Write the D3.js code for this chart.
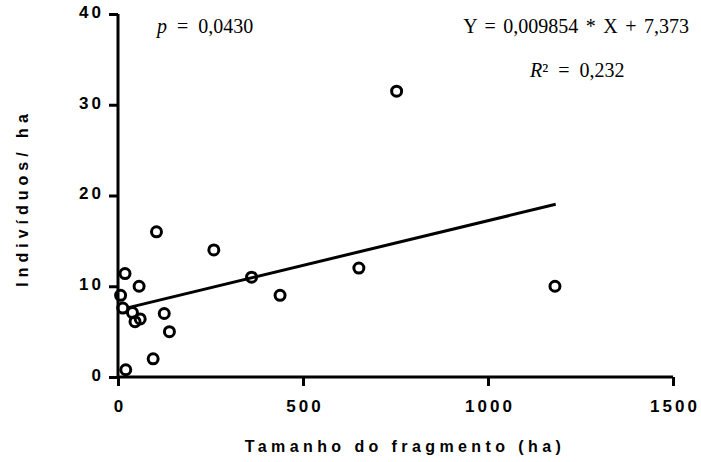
<!DOCTYPE html>
<html><head><meta charset="utf-8">
<script src="https://cdn.jsdelivr.net/npm/d3@7"></script>
<style>body{margin:0;background:#fff}</style>
</head><body>
<svg id="c" width="701" height="462"></svg>
<script>
const xValues = [104, 259, 19, 57, 7, 361, 438, 13, 39, 46, 60, 125, 139, 95, 21, 651, 1181, 753];
const yValues = [16.0, 14.0, 11.4, 10.0, 9.0, 11.0, 9.0, 7.6, 7.1, 6.1, 6.4, 7.0, 5.0, 2.0, 0.8, 12.0, 10.0, 31.5];
const xTicks = [0, 500, 1000, 1500];
const yTicks = [0, 10, 20, 30, 40];
const slope = 0.009854, intercept = 7.373;
const lineX = [28, 1183];

const svg = d3.select("#c");
const x = d3.scaleLinear().domain([0, 1500]).range([118, 673]);
const y = d3.scaleLinear().domain([0, 40]).range([377, 14]);

const sans = "Liberation Sans, Arial, sans-serif";
const xAxis = svg.append("g").attr("transform", "translate(0,377)")
  .call(d3.axisBottom(x).tickValues(xTicks).tickSize(9).tickPadding(14).tickFormat(d3.format("d")));
const yAxis = svg.append("g").attr("transform", "translate(118,0)")
  .call(d3.axisLeft(y).tickValues(yTicks).tickSize(9).tickPadding(5).tickFormat(d3.format("d")));
[xAxis, yAxis].forEach(g => {
  g.select(".domain").attr("stroke", "#000").attr("stroke-width", 3);
  g.selectAll(".tick line").attr("stroke", "#000").attr("stroke-width", 3);
  g.selectAll("text").attr("fill", "#000").attr("font-family", sans)
    .attr("font-weight", "bold").attr("font-size", 17).style("letter-spacing", "3px");
});
xAxis.select(".domain").attr("d", "M118,0H673");
yAxis.select(".domain").attr("d", "M0,377V14");
xAxis.selectAll("text").attr("dx", 1.5);
yAxis.selectAll("text").attr("dy", "0.2em");

svg.append("path")
  .datum(lineX)
  .attr("d", d3.line().x(d => x(d)).y(d => y(slope * d + intercept)))
  .attr("stroke", "#000").attr("stroke-width", 3).attr("fill", "none");

svg.append("g").selectAll("circle").data(xValues).join("circle")
  .attr("cx", d => x(d)).attr("cy", (d, i) => y(yValues[i])).attr("r", 5)
  .attr("fill", "none").attr("stroke", "#000").attr("stroke-width", 3);

svg.append("text").attr("x", 405).attr("y", 452).attr("text-anchor", "middle")
  .attr("font-family", sans).attr("font-weight", "bold")
  .attr("font-size", 16).style("letter-spacing", "4.4px").text("Tamanho do fragmento (ha)");
svg.append("text").attr("transform", "translate(28,198) rotate(-90)").attr("text-anchor", "middle")
  .attr("font-family", sans).attr("font-weight", "bold")
  .attr("font-size", 16).style("letter-spacing", "5px").text("Indivíduos/ ha");

const serif = "Liberation Serif, Times New Roman, serif";
const t1 = svg.append("text").attr("x", 157).attr("y", 33).attr("font-family", serif).attr("font-size", 20).style("word-spacing", "5px");
t1.append("tspan").attr("font-style", "italic").text("p");
t1.append("tspan").text(" = 0,0430");
svg.append("text").attr("x", 689).attr("y", 33).attr("text-anchor", "end").attr("font-family", serif)
  .attr("font-size", 20).style("word-spacing", "2.5px").text("Y = 0,009854 * X + 7,373");
const t3 = svg.append("text").attr("x", 530).attr("y", 77).attr("font-family", serif).attr("font-size", 20).style("word-spacing", "5px");
t3.append("tspan").attr("font-style", "italic").text("R");
t3.append("tspan").text("² = 0,232");
</script>
</body></html>
